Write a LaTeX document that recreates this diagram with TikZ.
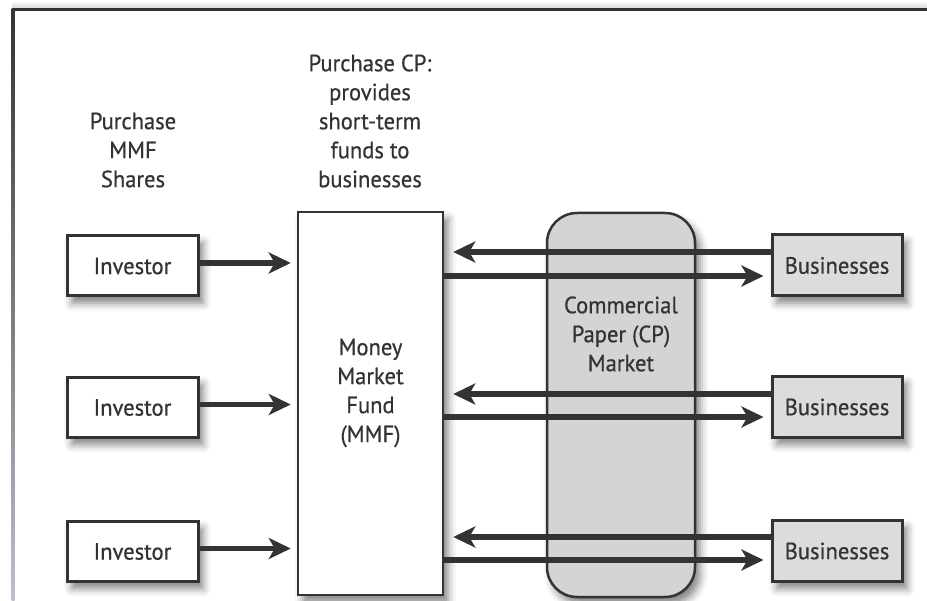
\documentclass[tikz,border=0pt]{standalone}
\usepackage{fontspec}
\setmainfont{PT Sans}[FakeBold=0.6, FakeStretch=0.96]
\usetikzlibrary{arrows.meta,shadows.blur}
\definecolor{ink}{HTML}{333333}
\definecolor{boxgray}{HTML}{DCDCDC}
\definecolor{mktgray}{HTML}{D4D4D4}

\begin{document}
\begin{tikzpicture}[x=1pt, y=-1pt,
    every node/.style={font=\fontsize{23.5}{29}\selectfont, text=ink, align=center, inner sep=0pt},
    soft/.style={blur shadow={shadow xshift=5pt, shadow yshift=-7pt, shadow blur radius=8pt, shadow opacity=50}},
    investor/.style={draw=ink, line width=3pt, fill=white, soft, minimum width=131pt, minimum height=60pt},
    business/.style={draw=ink, line width=3pt, fill=boxgray, soft, minimum width=130pt, minimum height=61pt},
    flow/.style={draw=ink, line width=5.5pt, -{Stealth[length=22pt, width=21pt, inset=6pt]}}]
    \useasboundingbox (0,0) rectangle (927,601);

    % frame
    \shade[top color=white, bottom color=black!18] (12,1) rectangle (927,9);
    \draw[ink, line width=3pt] (11.5,10) -- (927,10);
    \shade[top color=ink, bottom color=blue!20!black!25] (11.5,8.5) rectangle (14.5,601);

    % CP market and fund
    \node[draw=ink, line width=2.5pt, fill=mktgray, rounded corners=30pt, soft,
          minimum width=148pt, minimum height=384pt] (cp) at (621,405) {};
    \node[draw=ink, line width=2.5pt, fill=white, soft,
          minimum width=145pt, minimum height=383pt] (mmf) at (370.5,403.5) {};
    \node (cptext) at (621,334) {Commercial\\Paper (CP)\\Market};
    \node (mmftext) at (370.5,393) {Money\\Market\\Fund\\(MMF)};

    % headings
    \node (buyshares) at (133,150) {Purchase\\MMF\\Shares};
    \node (buycp) at (370,121) {Purchase CP:\\provides\\short-term\\funds to\\businesses};

    \node[investor] (inv1) at (132.5,266) {Investor};
    \node[investor] (inv2) at (132.5,407.5) {Investor};
    \node[investor] (inv3) at (132.5,551.5) {Investor};

    \node[business] (bus1) at (837,265.5) {Businesses};
    \node[business] (bus2) at (837,407) {Businesses};
    \node[business] (bus3) at (837,551) {Businesses};

    % investors buy shares
    \draw[flow] ([yshift=3pt]inv1.east) -- ([yshift=3pt, xshift=-6pt]mmf.west |- inv1.east);
    \draw[flow] ([yshift=3pt]inv2.east) -- ([yshift=3pt, xshift=-6pt]mmf.west |- inv2.east);
    \draw[flow] ([yshift=3pt]inv3.east) -- ([yshift=3pt, xshift=-6pt]mmf.west |- inv3.east);

    % paper in, funds out
    \draw[flow] ([yshift=13.5pt]bus1.west) -- ([yshift=13.5pt, xshift=9pt]mmf.east |- bus1.west);
    \draw[flow] ([yshift=-10.5pt]mmf.east |- bus1.west) -- ([yshift=-10.5pt, xshift=-7pt]bus1.west);
    \draw[flow] ([yshift=13pt]bus2.west) -- ([yshift=13pt, xshift=9pt]mmf.east |- bus2.west);
    \draw[flow] ([yshift=-10pt]mmf.east |- bus2.west) -- ([yshift=-10pt, xshift=-7pt]bus2.west);
    \draw[flow] ([yshift=14pt]bus3.west) -- ([yshift=14pt, xshift=9pt]mmf.east |- bus3.west);
    \draw[flow] ([yshift=-9pt]mmf.east |- bus3.west) -- ([yshift=-9pt, xshift=-7pt]bus3.west);
\end{tikzpicture}
\end{document}
